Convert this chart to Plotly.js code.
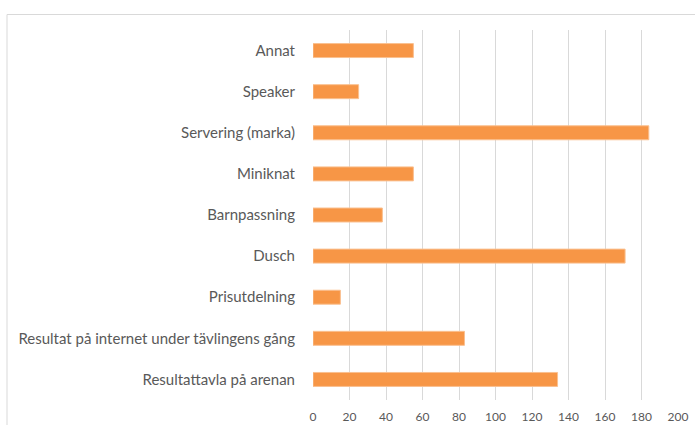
<!DOCTYPE html>
<html>
<head>
<meta charset="utf-8">
<script src="https://cdn.plot.ly/plotly-3.0.1.min.js"></script>
<style>html,body{margin:0;padding:0;background:#fff}#chart{width:695px;height:425px}</style>
</head>
<body>
<div id="chart"></div>
<script>
// Categories listed bottom to top
const categories = [
  "Resultattavla på arenan",
  "Resultat på internet under tävlingens gång",
  "Prisutdelning",
  "Dusch",
  "Barnpassning",
  "Miniknat",
  "Servering (marka)",
  "Speaker",
  "Annat"
];
const values = [134, 83, 15, 171, 38, 55, 184, 25, 55];
const xTicks = [0, 20, 40, 60, 80, 100, 120, 140, 160, 180, 200];

const L = 313, R = 17, T = 30, B = 25, W = 695, H = 425;
const pw = W - L - R, ph = H - T - B;

const trace = {
  type: 'bar',
  orientation: 'h',
  y: categories,
  x: values,
  marker: { color: '#F79646', line: { color: '#FAC090', width: 1 } },
  hoverinfo: 'x+y'
};

const layout = {
  width: W, height: H,
  margin: { l: L, r: R, t: T, b: B, pad: 0 },
  paper_bgcolor: '#ffffff',
  plot_bgcolor: '#ffffff',
  bargap: 0.66,
  showlegend: false,
  font: { family: 'Lato, "Noto Sans", sans-serif', color: '#595959' },
  xaxis: {
    range: [0, 200],
    tickvals: xTicks,
    ticktext: xTicks.map(String),
    showgrid: true,
    gridcolor: '#D9D9D9',
    gridwidth: 1,
    zeroline: false,
    showline: false,
    ticks: 'outside', ticklen: 6, tickcolor: 'rgba(0,0,0,0)',
    tickfont: { size: 12, color: '#595959' },
    fixedrange: true
  },
  yaxis: {
    type: 'category',
    categoryorder: 'array',
    categoryarray: categories,
    range: [-0.5, categories.length - 0.5],
    showgrid: false,
    zeroline: false,
    showline: false,
    ticks: 'outside', ticklen: 14, tickcolor: 'rgba(0,0,0,0)',
    tickfont: { size: 15, color: '#595959' },
    fixedrange: true
  },
  shapes: [
    { type: 'line', xref: 'paper', yref: 'paper',
      x0: (7 - L) / pw, x1: (W + 5 - L) / pw,
      y0: 1 + (T - 14.5) / ph, y1: 1 + (T - 14.5) / ph,
      line: { color: '#D9D9D9', width: 1 } },
    { type: 'line', xref: 'paper', yref: 'paper',
      x0: (7 - L) / pw, x1: (7 - L) / pw,
      y0: 1 + (T - 14.5) / ph, y1: -B / ph - 0.05,
      line: { color: '#D9D9D9', width: 1 } }
  ]
};

Plotly.newPlot('chart', [trace], layout, { displayModeBar: false, staticPlot: true });
</script>
</body>
</html>
